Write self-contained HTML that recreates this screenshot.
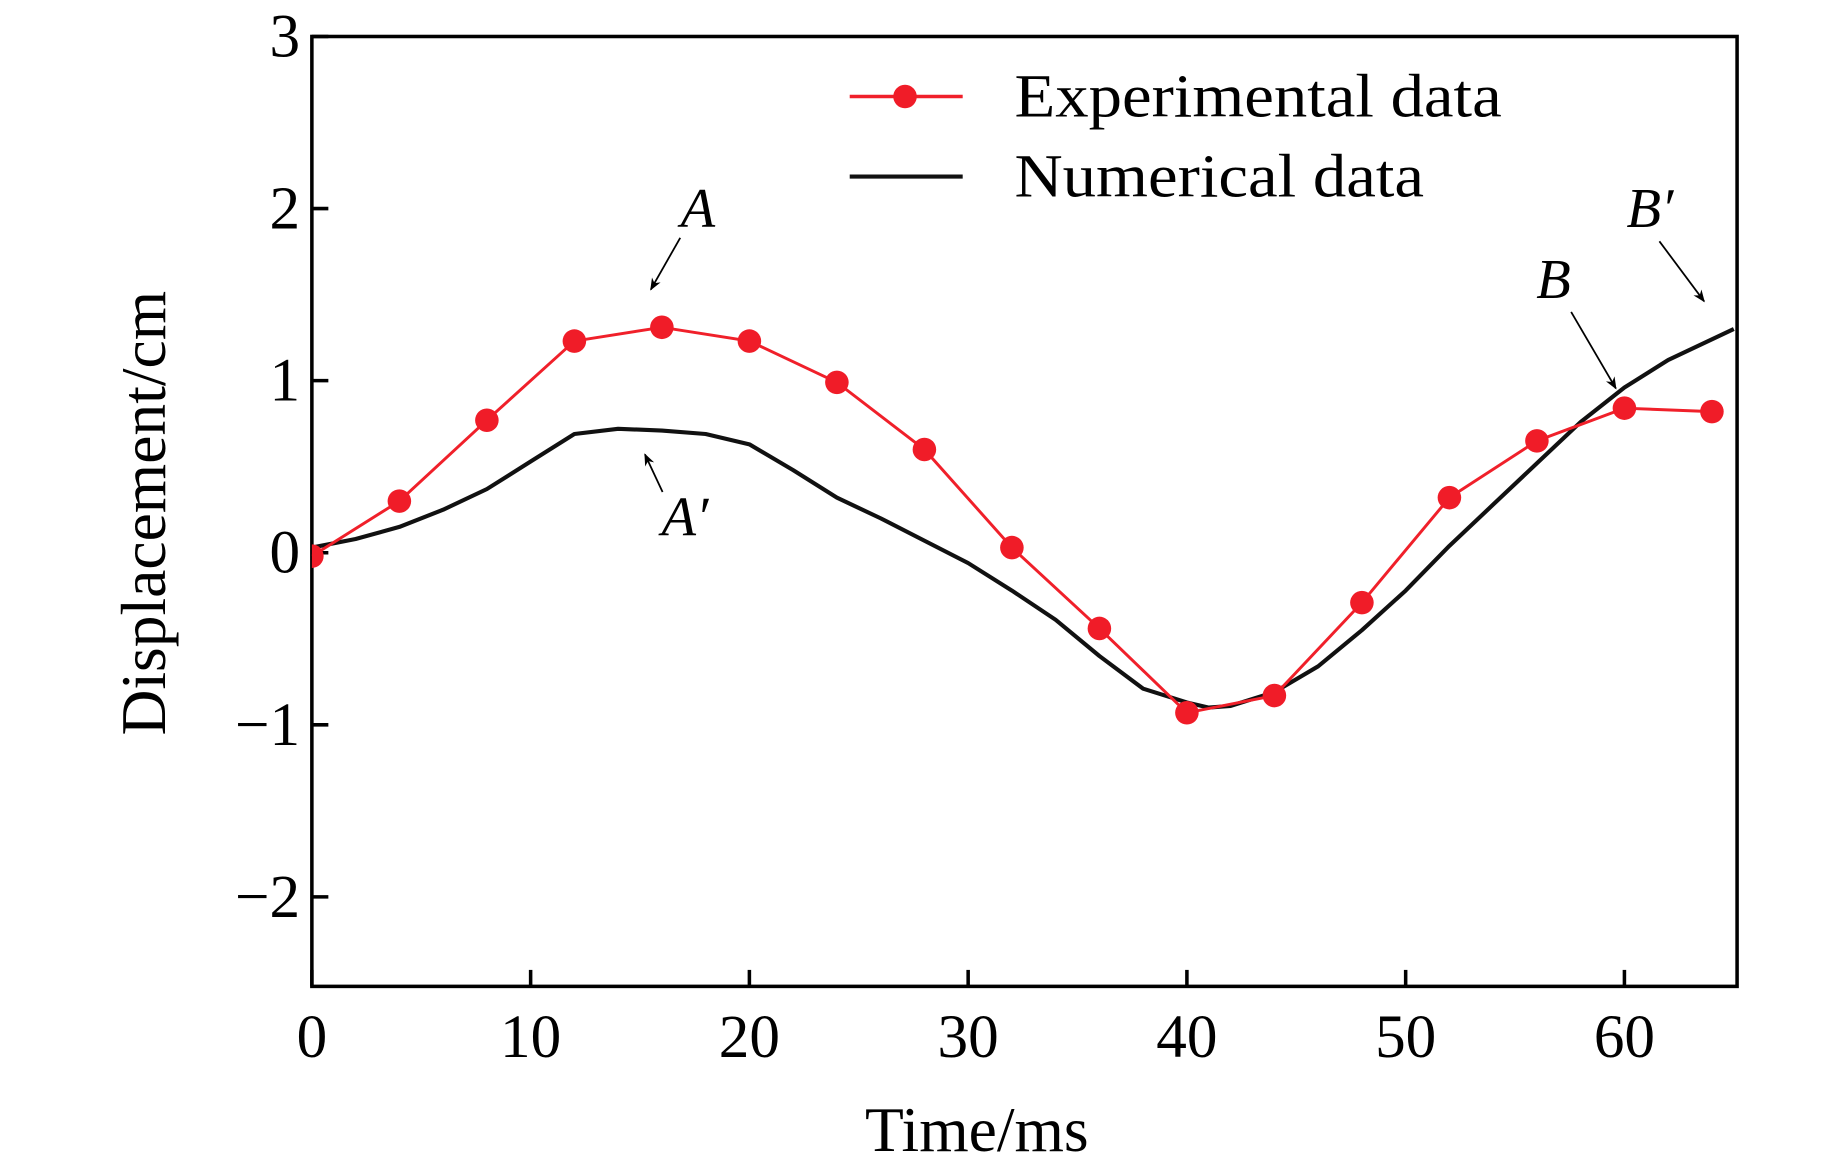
<!DOCTYPE html>
<html><head><meta charset="utf-8"><style>
html,body{margin:0;padding:0;background:#fff;}
svg{display:block;}
text{font-family:"Liberation Serif",serif;fill:#000;}
</style></head><body>
<svg id="chart" width="1843" height="1170" viewBox="0 0 1566 994" preserveAspectRatio="none" xmlns="http://www.w3.org/2000/svg">
<defs><marker id="ah" viewBox="0 0 10 10" refX="9" refY="5" markerWidth="7" markerHeight="7" orient="auto"><path d="M0,1 L10,5 L0,9 L3,5 z" fill="#000"/></marker></defs>
<g id="plot"></g>
</svg>
<script>
const xTicks=[0,10,20,30,40,50,60];
const yTicks=[-2,-1,0,1,2,3];
const yTickLabels=["\u22122","\u22121","0","1","2","3"];
const expX=[0,4,8,12,16,20,24,28,32,36,40,44,48,52,56,60,64];
const expY=[-0.02,0.3,0.77,1.23,1.31,1.23,0.99,0.6,0.03,-0.44,-0.93,-0.83,-0.29,0.32,0.65,0.84,0.82];
const numX=[0,2,4,6,8,10,12,14,16,18,20,22,24,26,28,30,32,34,36,38,40,41,42,44,46,48,50,52,54,56,58,60,62,65];
const numY=[0.03,0.08,0.15,0.25,0.37,0.53,0.69,0.72,0.71,0.69,0.63,0.48,0.32,0.2,0.07,-0.06,-0.22,-0.39,-0.6,-0.79,-0.87,-0.9,-0.89,-0.81,-0.66,-0.45,-0.22,0.04,0.28,0.52,0.76,0.96,1.12,1.3];
const L=265,R=1476,T=31,B=838,XMIN=0,XMAX=65.15,YMIN=-2.52,YMAX=3;
const sx=v=>L+(v-XMIN)/(XMAX-XMIN)*(R-L);
const sy=v=>B-(v-YMIN)/(YMAX-YMIN)*(B-T);
const g=document.getElementById('plot');
const NS="http://www.w3.org/2000/svg";
function el(t,a,p){const e=document.createElementNS(NS,t);for(const k in a)e.setAttribute(k,a[k]);(p||g).appendChild(e);return e;}
let box=el('rect',{x:L,y:T,width:R-L,height:B-T,fill:'none',stroke:'#000','stroke-width':3});


xTicks.forEach(v=>{
 const t=el('line',{x1:sx(v),x2:sx(v),y1:B,y2:B-14,stroke:'#000','stroke-width':3});
 
 
 const tx=el('text',{x:sx(v),y:B+60,'text-anchor':'middle','font-size':52});
 tx.textContent=v;
 
 
});
yTicks.forEach((v,i)=>{
 const t=el('line',{x1:L,x2:L+14,y1:sy(v),y2:sy(v),stroke:'#000','stroke-width':3});
 
 
 const tx=el('text',{x:L-10,y:sy(v)+17,'text-anchor':'end','font-size':52});
 tx.textContent=yTickLabels[i];
 
 
});
let nl=el('polyline',{points:numX.map((x,i)=>sx(x)+','+sy(numY[i])).join(' '),fill:'none',stroke:'#111','stroke-width':3.5,'stroke-linejoin':'round'});


let clip=el('clipPath',{id:'cp'});el('rect',{x:L,y:T,width:R-L,height:B-T},clip);
let eg=el('g',{'clip-path':'url(#cp)'});
let elin=el('polyline',{points:expX.map((x,i)=>sx(x)+','+sy(expY[i])).join(' '),fill:'none',stroke:'#f0202a','stroke-width':2.5},eg);


expX.forEach((x,i)=>{
 const c=el('circle',{cx:sx(x),cy:sy(expY[i]),r:10,fill:'#f01c28'},eg);
 
 
});
let lg=el('g',{});


el('line',{x1:722,x2:818,y1:82,y2:82,stroke:'#f0202a','stroke-width':3},lg);
el('circle',{cx:769,cy:82,r:10,fill:'#f01c28'},lg);
let t1=el('text',{x:862,y:99,'font-size':52,textLength:414,lengthAdjust:'spacingAndGlyphs'},lg);t1.textContent='Experimental data';


el('line',{x1:722,x2:818,y1:150,y2:150,stroke:'#111','stroke-width':3.5},lg);
let t2=el('text',{x:862,y:167,'font-size':52,textLength:348,lengthAdjust:'spacingAndGlyphs'},lg);t2.textContent='Numerical data';


function ann(label,tx,ty,x1,y1,x2,y2,name){
 const t=el('text',{x:tx,y:ty,'font-size':48,'font-style':'italic','text-anchor':'middle'});
 t.textContent=label;
 
 
 const a=el('line',{x1:x1,y1:y1,x2:x2,y2:y2,stroke:'#000','stroke-width':1.5,'marker-end':'url(#ah)'});
 
 
}
ann('A',593,193,578,202,553,246,'label-a');
ann('A\u2032',582,455,563,418,548,386,'label-a-prime');
ann('B',1320,253,1335,265,1373,330,'label-b');
ann('B\u2032',1402,193,1410,205,1448,256,'label-b-prime');
let xt=el('text',{x:830,y:978,'text-anchor':'middle','font-size':54});xt.textContent='Time/ms';


let yt=el('text',{x:0,y:0,'text-anchor':'middle','font-size':54,transform:'translate(140,436) rotate(-90)'});yt.textContent='Displacement/cm';


</script>
</body></html>
